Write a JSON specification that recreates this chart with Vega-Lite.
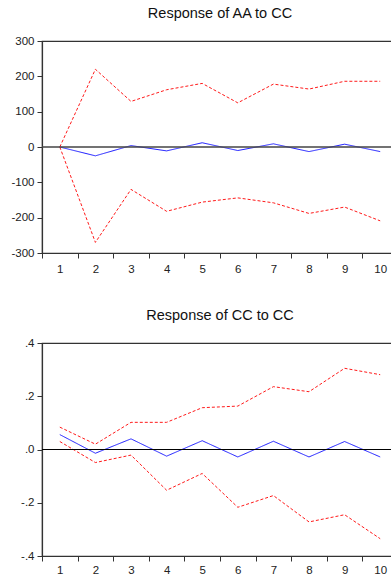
{
  "$schema": "https://vega.github.io/schema/vega-lite/v6.json",
  "padding": {"left": 10, "top": 4, "right": 0, "bottom": 0},
  "background": "white",
  "spacing": 30,
  "config": {
    "font": "Liberation Sans",
    "view": {"stroke": "#333333", "strokeWidth": 1.2},
    "title": {"fontSize": 14.5, "fontWeight": "normal", "color": "#111111", "offset": 14, "anchor": "middle"},
    "axis": {
      "grid": false,
      "domainColor": "#333333",
      "domainWidth": 1.2,
      "tickColor": "#333333",
      "tickSize": 5,
      "labelFontSize": 11.5,
      "labelColor": "#222222",
      "labelPadding": 3,
      "labelOverlap": false,
      "labelBound": false,
      "title": null
    },
    "legend": {"disable": true}
  },
  "datasets": {
    "aa": [
      {"step": 1, "series": "resp", "value": 0},
      {"step": 2, "series": "resp", "value": -25},
      {"step": 3, "series": "resp", "value": 4},
      {"step": 4, "series": "resp", "value": -11},
      {"step": 5, "series": "resp", "value": 12},
      {"step": 6, "series": "resp", "value": -10},
      {"step": 7, "series": "resp", "value": 9},
      {"step": 8, "series": "resp", "value": -13},
      {"step": 9, "series": "resp", "value": 8},
      {"step": 10, "series": "resp", "value": -13},
      {"step": 1, "series": "upper", "value": 0},
      {"step": 2, "series": "upper", "value": 220},
      {"step": 3, "series": "upper", "value": 129},
      {"step": 4, "series": "upper", "value": 162},
      {"step": 5, "series": "upper", "value": 180},
      {"step": 6, "series": "upper", "value": 125},
      {"step": 7, "series": "upper", "value": 178},
      {"step": 8, "series": "upper", "value": 164},
      {"step": 9, "series": "upper", "value": 186},
      {"step": 10, "series": "upper", "value": 186},
      {"step": 1, "series": "lower", "value": 0},
      {"step": 2, "series": "lower", "value": -270},
      {"step": 3, "series": "lower", "value": -120},
      {"step": 4, "series": "lower", "value": -182},
      {"step": 5, "series": "lower", "value": -156},
      {"step": 6, "series": "lower", "value": -144},
      {"step": 7, "series": "lower", "value": -158},
      {"step": 8, "series": "lower", "value": -188},
      {"step": 9, "series": "lower", "value": -170},
      {"step": 10, "series": "lower", "value": -209}
    ],
    "cc": [
      {"step": 1, "series": "resp", "value": 0.056},
      {"step": 2, "series": "resp", "value": -0.014},
      {"step": 3, "series": "resp", "value": 0.040},
      {"step": 4, "series": "resp", "value": -0.025},
      {"step": 5, "series": "resp", "value": 0.033},
      {"step": 6, "series": "resp", "value": -0.028},
      {"step": 7, "series": "resp", "value": 0.031},
      {"step": 8, "series": "resp", "value": -0.028},
      {"step": 9, "series": "resp", "value": 0.030},
      {"step": 10, "series": "resp", "value": -0.028},
      {"step": 1, "series": "upper", "value": 0.084},
      {"step": 2, "series": "upper", "value": 0.020},
      {"step": 3, "series": "upper", "value": 0.102},
      {"step": 4, "series": "upper", "value": 0.102},
      {"step": 5, "series": "upper", "value": 0.157},
      {"step": 6, "series": "upper", "value": 0.163},
      {"step": 7, "series": "upper", "value": 0.236},
      {"step": 8, "series": "upper", "value": 0.217},
      {"step": 9, "series": "upper", "value": 0.305},
      {"step": 10, "series": "upper", "value": 0.281},
      {"step": 1, "series": "lower", "value": 0.030},
      {"step": 2, "series": "lower", "value": -0.049},
      {"step": 3, "series": "lower", "value": -0.021},
      {"step": 4, "series": "lower", "value": -0.153},
      {"step": 5, "series": "lower", "value": -0.090},
      {"step": 6, "series": "lower", "value": -0.217},
      {"step": 7, "series": "lower", "value": -0.173},
      {"step": 8, "series": "lower", "value": -0.272},
      {"step": 9, "series": "lower", "value": -0.245},
      {"step": 10, "series": "lower", "value": -0.335}
    ]
  },
  "vconcat": [
    {
      "title": "Response of AA to CC",
      "width": 356,
      "height": 212,
      "layer": [
        {
          "data": {"name": "aa"},
          "mark": {"type": "line", "strokeWidth": 1},
          "encoding": {
            "x": {"field": "step", "type": "ordinal", "bandPosition": 0.5,
                  "scale": {"type": "band", "paddingInner": 0, "paddingOuter": 0},
                  "axis": {"tickBand": "extent", "labelAngle": 0, "labelPadding": 5, "labelOverlap": false}},
            "y": {"field": "value", "type": "quantitative",
                  "scale": {"domain": [-300, 300], "nice": false},
                  "axis": {"values": [-300, -200, -100, 0, 100, 200, 300], "labelOverlap": false,
                           "labelExpr": "replace(format(datum.value, 'd'), '\u2212', '-')"}},
            "color": {"field": "series", "type": "nominal",
                      "scale": {"domain": ["resp", "upper", "lower"], "range": ["#1a1aff", "#ff1a1a", "#ff1a1a"]}},
            "strokeDash": {"field": "series", "type": "nominal",
                           "scale": {"domain": ["resp", "upper", "lower"], "range": [[1, 0], [3, 2], [3, 2]]}}
          }
        },
        {
          "data": {"values": [{"z": 0}]},
          "mark": {"type": "rule", "color": "#444444", "strokeWidth": 1.3},
          "encoding": {"y": {"field": "z", "type": "quantitative",
                  "scale": {"domain": [-300, 300], "nice": false},
                  "axis": {"values": [-300, -200, -100, 0, 100, 200, 300], "labelOverlap": false,
                           "labelExpr": "replace(format(datum.value, 'd'), '\u2212', '-')"}}}
        }
      ]
    },
    {
      "title": "Response of CC to CC",
      "width": 356,
      "height": 213,
      "layer": [
        {
          "data": {"name": "cc"},
          "mark": {"type": "line", "strokeWidth": 1},
          "encoding": {
            "x": {"field": "step", "type": "ordinal", "bandPosition": 0.5,
                  "scale": {"type": "band", "paddingInner": 0, "paddingOuter": 0},
                  "axis": {"tickBand": "extent", "labelAngle": 0, "labelPadding": 3, "labelOverlap": false}},
            "y": {"field": "value", "type": "quantitative",
                  "scale": {"domain": [-0.4, 0.4], "nice": false},
                  "axis": {"values": [-0.4, -0.2, 0, 0.2, 0.4], "labelOverlap": false,
                           "labelExpr": "replace(replace(format(datum.value, '.1f'), '\u2212', '-'), '0.', '.')"}},
            "color": {"field": "series", "type": "nominal",
                      "scale": {"domain": ["resp", "upper", "lower"], "range": ["#1a1aff", "#ff1a1a", "#ff1a1a"]}},
            "strokeDash": {"field": "series", "type": "nominal",
                           "scale": {"domain": ["resp", "upper", "lower"], "range": [[1, 0], [3, 2], [3, 2]]}}
          }
        },
        {
          "data": {"values": [{"z": 0}]},
          "mark": {"type": "rule", "color": "#000000", "strokeWidth": 1},
          "encoding": {"y": {"field": "z", "type": "quantitative",
                  "scale": {"domain": [-0.4, 0.4], "nice": false},
                  "axis": {"values": [-0.4, -0.2, 0, 0.2, 0.4], "labelOverlap": false,
                           "labelExpr": "replace(replace(format(datum.value, '.1f'), '\u2212', '-'), '0.', '.')"}}}
        }
      ]
    }
  ]
}
